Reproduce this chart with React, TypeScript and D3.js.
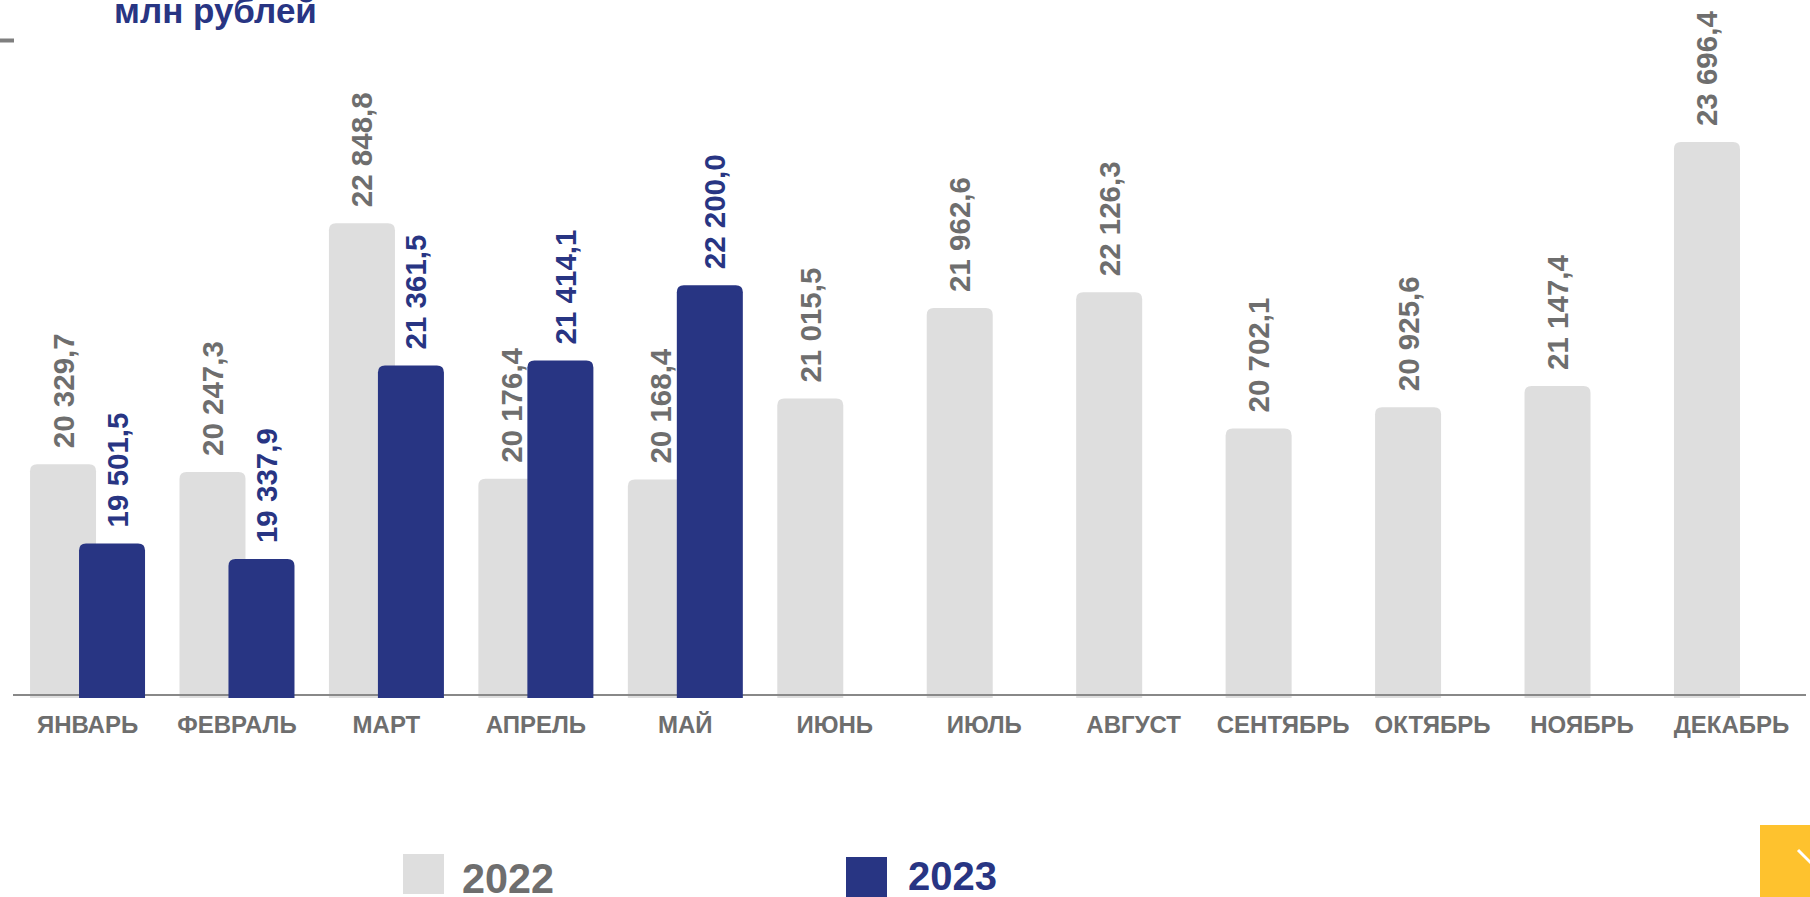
import React, { useEffect, useRef } from 'react';
import * as d3 from 'd3';

// months and values (млн рублей)
const months = ['ЯНВАРЬ', 'ФЕВРАЛЬ', 'МАРТ', 'АПРЕЛЬ', 'МАЙ', 'ИЮНЬ', 'ИЮЛЬ', 'АВГУСТ', 'СЕНТЯБРЬ', 'ОКТЯБРЬ', 'НОЯБРЬ', 'ДЕКАБРЬ'];
const values2022 = [20329.7, 20247.3, 22848.8, 20176.4, 20168.4, 21015.5, 21962.6, 22126.3, 20702.1, 20925.6, 21147.4, 23696.4];
const values2023 = [19501.5, 19337.9, 21361.5, 21414.1, 22200.0];
const seriesNames = ['2022', '2023'];
const title = 'млн рублей';

const GRAY = '#dedede';
const BLUE = '#283583';
const TEXT_GRAY = '#6e6e6e';
const FONT = '"Liberation Sans", Arial, sans-serif';

const W = 1810;
const H = 897;

const fmt = d3.formatLocale({ decimal: ',', thousands: ' ', grouping: [3], currency: ['', ''] }).format(',.1f');

// bar with rounded top corners
const topRoundedBar = (x: number, y: number, w: number, h: number, r: number) => {
  const rr = Math.min(r, w / 2, h);
  return `M${x},${y + h}V${y + rr}Q${x},${y} ${x + rr},${y}H${x + w - rr}Q${x + w},${y} ${x + w},${y + rr}V${y + h}Z`;
};

const App: React.FC = () => {
  const svgRef = useRef<SVGSVGElement | null>(null);

  useEffect(() => {
    if (!svgRef.current) return;
    const svg = d3.select(svgRef.current);
    svg.selectAll('*').remove();

    const axisY = 695;
    const barBottom = 698;

    const x = d3.scaleBand<string>()
      .domain(months)
      .range([13, 1806])
      .paddingInner(0.2305)
      .paddingOuter(0.114);

    const y = d3.scaleLinear()
      .domain([17900, 24000])
      .range([696.6, 113]);

    const bw = x.bandwidth();
    const barW = bw * 0.574;

    // title
    svg.append('text')
      .attr('x', 114)
      .attr('y', 23)
      .attr('font-family', FONT)
      .attr('font-weight', 'bold')
      .attr('font-size', 35)
      .attr('fill', BLUE)
      .text(title);

    // small tick at top-left
    svg.append('line')
      .attr('x1', 0).attr('x2', 14)
      .attr('y1', 40.5).attr('y2', 40.5)
      .attr('stroke', '#7f7f7f')
      .attr('stroke-width', 4);

    // 2022 bars
    svg.append('g')
      .selectAll('path')
      .data(values2022)
      .join('path')
      .attr('d', (d, i) => {
        const x0 = x(months[i]) as number;
        return topRoundedBar(x0, y(d), barW, barBottom - y(d), 7);
      })
      .attr('fill', GRAY);

    // axis line
    svg.append('line')
      .attr('x1', 13).attr('x2', 1806)
      .attr('y1', axisY).attr('y2', axisY)
      .attr('stroke', '#888888')
      .attr('stroke-width', 2);

    // 2023 bars
    svg.append('g')
      .selectAll('path')
      .data(values2023)
      .join('path')
      .attr('d', (d, i) => {
        const x0 = (x(months[i]) as number) + bw - barW;
        return topRoundedBar(x0, y(d), barW, barBottom - y(d), 7);
      })
      .attr('fill', BLUE);

    // value labels
    const labelGap = 16;
    const labelSize = 29.5;
    svg.append('g')
      .selectAll('text')
      .data(values2022)
      .join('text')
      .attr('transform', (d, i) => {
        const cx = (x(months[i]) as number) + barW / 2;
        return `translate(${cx},${y(d) - labelGap}) rotate(-90)`;
      })
      .attr('dominant-baseline', 'central')
      .attr('font-family', FONT)
      .attr('font-weight', 'bold')
      .attr('font-size', labelSize)
      .attr('fill', TEXT_GRAY)
      .text(d => fmt(d));

    svg.append('g')
      .selectAll('text')
      .data(values2023)
      .join('text')
      .attr('transform', (d, i) => {
        const cx = (x(months[i]) as number) + bw - barW / 2 + 5;
        return `translate(${cx},${y(d) - labelGap}) rotate(-90)`;
      })
      .attr('dominant-baseline', 'central')
      .attr('font-family', FONT)
      .attr('font-weight', 'bold')
      .attr('font-size', labelSize)
      .attr('fill', BLUE)
      .text(d => fmt(d));

    // month labels
    svg.append('g')
      .selectAll('text')
      .data(months)
      .join('text')
      .attr('x', d => (x(d) as number) + bw / 2)
      .attr('y', 733)
      .attr('text-anchor', 'middle')
      .attr('font-family', FONT)
      .attr('font-weight', 'bold')
      .attr('font-size', 24)
      .attr('fill', TEXT_GRAY)
      .text(d => d);

    // legend
    const legend = [
      { name: seriesNames[0], color: GRAY, text: TEXT_GRAY, sx: 403, sy: 854, sh: 40, tx: 462, ty: 893, fs: 42, tl: 92 },
      { name: seriesNames[1], color: BLUE, text: BLUE, sx: 846, sy: 857, sh: 42, tx: 908, ty: 890, fs: 40, tl: 89 },
    ];
    const lg = svg.append('g');
    legend.forEach(l => {
      lg.append('rect')
        .attr('x', l.sx).attr('y', l.sy)
        .attr('width', 41).attr('height', l.sh)
        .attr('fill', l.color);
      lg.append('text')
        .attr('x', l.tx).attr('y', l.ty)
        .attr('font-family', FONT)
        .attr('font-weight', 'bold')
        .attr('font-size', l.fs)
        .attr('textLength', l.tl)
        .attr('lengthAdjust', 'spacingAndGlyphs')
        .attr('fill', l.text)
        .text(l.name);
    });

    // yellow corner badge
    svg.append('rect')
      .attr('x', 1760).attr('y', 825)
      .attr('width', 50).attr('height', 72)
      .attr('fill', '#fec22e');
    svg.append('line')
      .attr('x1', 1798).attr('y1', 850)
      .attr('x2', 1812).attr('y2', 864)
      .attr('stroke', '#ffffff')
      .attr('stroke-width', 3);
  }, []);

  return (
    <svg
      ref={svgRef}
      width={W}
      height={H}
      style={{ position: 'absolute', left: 0, top: 0, background: '#ffffff' }}
    />
  );
};

export default App;
